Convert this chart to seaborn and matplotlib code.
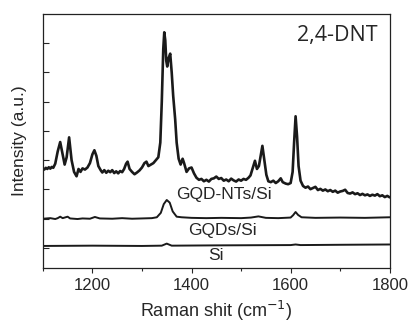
import matplotlib
matplotlib.use("Agg")
import matplotlib.pyplot as plt
import seaborn as sns
from matplotlib.ticker import MultipleLocator

# ---- data: (Raman shift, intensity) ----
nts_points = [
    (1100, 2.73), (1103, 2.68), (1106, 2.74), (1109, 2.70), (1112, 2.76), (1115, 2.71), (1118, 2.77),
    (1121, 2.74), (1125, 2.88), (1130, 3.30), (1135, 3.62), (1140, 3.20), (1144, 2.85), (1148, 3.10),
    (1153, 3.78), (1158, 3.00), (1163, 2.60), (1168, 2.45), (1172, 2.70), (1176, 2.60), (1180, 2.72),
    (1185, 2.68), (1190, 2.75), (1195, 2.90), (1200, 3.20), (1204, 3.34), (1208, 3.15), (1212, 2.80),
    (1217, 2.65), (1220, 2.58), (1224, 2.66), (1228, 2.57), (1232, 2.64), (1236, 2.59), (1240, 2.66),
    (1244, 2.56), (1248, 2.62), (1252, 2.55), (1256, 2.63), (1260, 2.59), (1264, 2.70), (1268, 2.88),
    (1271, 2.95), (1275, 2.70), (1280, 2.60), (1285, 2.52), (1290, 2.58), (1295, 2.65), (1300, 2.75),
    (1305, 2.90), (1309, 2.95), (1313, 2.80), (1318, 2.85), (1323, 2.90), (1328, 3.00), (1333, 3.10),
    (1337, 3.60), (1340, 5.00), (1343, 6.80), (1345, 7.37), (1347, 7.10), (1349, 6.40), (1351, 6.20),
    (1354, 6.50), (1357, 6.64), (1360, 6.00), (1363, 5.20), (1367, 4.40), (1370, 3.60), (1374, 3.05),
    (1378, 2.85), (1382, 3.05), (1385, 2.90), (1390, 2.60), (1395, 2.72), (1400, 2.75), (1405, 2.55),
    (1410, 2.40), (1415, 2.33), (1420, 2.36), (1425, 2.28), (1430, 2.33), (1435, 2.27), (1440, 2.36),
    (1445, 2.38), (1450, 2.44), (1455, 2.36), (1460, 2.39), (1465, 2.30), (1470, 2.34), (1475, 2.28),
    (1480, 2.37), (1485, 2.31), (1490, 2.27), (1495, 2.34), (1500, 2.30), (1505, 2.36), (1510, 2.33),
    (1515, 2.40), (1519, 2.48), (1523, 2.70), (1528, 2.98), (1532, 2.70), (1536, 2.80), (1540, 3.20),
    (1543, 3.49), (1547, 3.00), (1551, 2.50), (1555, 2.28), (1560, 2.25), (1565, 2.30), (1570, 2.22),
    (1575, 2.28), (1580, 2.38), (1584, 2.25), (1590, 2.20), (1595, 2.18), (1600, 2.22), (1604, 2.60),
    (1607, 3.60), (1610, 4.50), (1613, 3.80), (1616, 2.80), (1620, 2.30), (1625, 2.12), (1630, 2.06),
    (1635, 2.10), (1640, 2.01), (1645, 2.05), (1650, 2.09), (1655, 1.98), (1660, 2.02), (1665, 1.96),
    (1670, 2.00), (1675, 1.94), (1680, 1.98), (1685, 1.92), (1690, 1.96), (1695, 1.89), (1700, 1.93),
    (1705, 1.95), (1710, 1.99), (1715, 1.88), (1720, 1.86), (1725, 1.90), (1730, 1.84), (1735, 1.87),
    (1740, 1.81), (1745, 1.85), (1750, 1.80), (1755, 1.83), (1760, 1.78), (1765, 1.82), (1770, 1.79),
    (1775, 1.84), (1780, 1.77), (1785, 1.80), (1790, 1.74), (1795, 1.78), (1800, 1.73),
]

gqd_points = [
    (1100, 1.00), (1115, 1.02), (1125, 0.99), (1130, 1.02), (1135, 1.07), (1140, 1.02), (1150, 1.07),
    (1155, 1.01), (1170, 0.99), (1180, 1.01), (1195, 1.00), (1205, 1.06), (1215, 1.01), (1240, 1.00),
    (1260, 1.02), (1280, 1.00), (1300, 1.01), (1320, 1.02), (1330, 1.05), (1338, 1.20), (1344, 1.50),
    (1350, 1.64), (1356, 1.55), (1362, 1.25), (1370, 1.07), (1380, 1.05), (1400, 1.03), (1430, 1.02),
    (1460, 1.03), (1500, 1.02), (1520, 1.04), (1535, 1.08), (1550, 1.03), (1575, 1.02), (1600, 1.04),
    (1605, 1.12), (1610, 1.23), (1615, 1.13), (1622, 1.05), (1650, 1.03), (1700, 1.04), (1750, 1.03),
    (1800, 1.05),
]

si_points = [
    (1100, 0.07), (1200, 0.08), (1300, 0.07), (1340, 0.08), (1350, 0.15), (1360, 0.08), (1450, 0.09),
    (1600, 0.10), (1610, 0.12), (1620, 0.10), (1700, 0.11), (1800, 0.12),
]

series_labels = ["GQD-NTs/Si", "GQDs/Si", "Si"]
title_text = "2,4-DNT"
x_ticks = [1200, 1400, 1600, 1800]

sns.set_style("ticks")
plt.rcParams['font.family'] = ['Liberation Sans', 'DejaVu Sans']

fig = plt.figure(figsize=(4.12, 3.22), dpi=100)
ax = fig.add_axes([0.104, 0.168, 0.842, 0.789])

for pts, lw in [(nts_points, 1.9), (gqd_points, 1.4), (si_points, 1.4)]:
    xs = [p[0] for p in pts]
    ys = [p[1] for p in pts]
    sns.lineplot(x=xs, y=ys, ax=ax, color="#1a1a1a", linewidth=lw)

ax.set_xlim(1100, 1800)
ax.set_ylim(-0.68, 8.0)
ax.set_xticks(x_ticks)
ax.xaxis.set_minor_locator(MultipleLocator(100))
ax.set_yticks(range(0, 8))
ax.set_yticklabels([])
ax.tick_params(axis='x', which='major', direction='out', length=3.5, width=0.8, labelsize=12, pad=4)
ax.tick_params(axis='x', which='minor', direction='out', length=2.5, width=0.8)
ax.tick_params(axis='y', which='major', direction='in', length=4, width=0.8)
for s in ax.spines.values():
    s.set_color("#222222")
    s.set_linewidth(0.9)

ax.text(1465, 1.84, series_labels[0], ha='center', va='center', fontsize=12.5)
ax.text(1462, 0.61, series_labels[1], ha='center', va='center', fontsize=12.5)
ax.text(1449, -0.27, series_labels[2], ha='center', va='center', fontsize=12.5)
ax.text(1776, 7.27, title_text, ha='right', va='center', fontsize=15.5, family=['Open Sans', 'DejaVu Sans'])

ax.set_xlabel("Raman shit (cm$^{-1}$)", fontsize=13, labelpad=4)
ax.set_ylabel("Intensity (a.u.)", fontsize=12.5, labelpad=8)

fig.savefig("out.png", dpi=100)
